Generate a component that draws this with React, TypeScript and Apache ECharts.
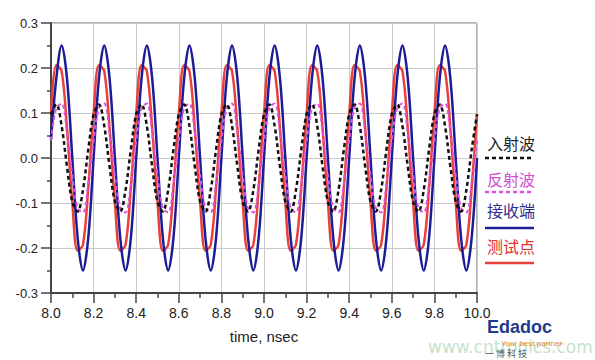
import React, { useEffect, useRef } from "react";
import * as echarts from "echarts";

// sample times (ns): 8.0 .. 10.0 every 0.025 ns
const times: number[] = Array.from({ length: 81 }, (_, i) => +(8 + i * 0.025).toFixed(3));

const xTicks = ["8.0", "8.2", "8.4", "8.6", "8.8", "9.0", "9.2", "9.4", "9.6", "9.8", "10.0"];
const yTicks = ["-0.3", "-0.2", "-0.1", "0.0", "0.1", "0.2", "0.3"];

// 入射波 (incident, black dashed)
const incident: number[] = [
  0.097, 0.119, 0.071, -0.019, -0.097, -0.119, -0.071, 0.019,
  0.097, 0.119, 0.071, -0.019, -0.097, -0.119, -0.071, 0.019,
  0.097, 0.119, 0.071, -0.019, -0.097, -0.119, -0.071, 0.019,
  0.097, 0.119, 0.071, -0.019, -0.097, -0.119, -0.071, 0.019,
  0.097, 0.119, 0.071, -0.019, -0.097, -0.119, -0.071, 0.019,
  0.097, 0.119, 0.071, -0.019, -0.097, -0.119, -0.071, 0.019,
  0.097, 0.119, 0.071, -0.019, -0.097, -0.119, -0.071, 0.019,
  0.097, 0.119, 0.071, -0.019, -0.097, -0.119, -0.071, 0.019,
  0.097, 0.119, 0.071, -0.019, -0.097, -0.119, -0.071, 0.019,
  0.097, 0.119, 0.071, -0.019, -0.097, -0.119, -0.071, 0.019,
  0.097,
];

// 反射波 (reflected, pink dashed)
const reflected: number[] = [
  0.039, 0.111, 0.121, 0.057, -0.039, -0.111, -0.121, -0.057,
  0.039, 0.111, 0.121, 0.057, -0.039, -0.111, -0.121, -0.057,
  0.039, 0.111, 0.121, 0.057, -0.039, -0.111, -0.121, -0.057,
  0.039, 0.111, 0.121, 0.057, -0.039, -0.111, -0.121, -0.057,
  0.039, 0.111, 0.121, 0.057, -0.039, -0.111, -0.121, -0.057,
  0.039, 0.111, 0.121, 0.057, -0.039, -0.111, -0.121, -0.057,
  0.039, 0.111, 0.121, 0.057, -0.039, -0.111, -0.121, -0.057,
  0.039, 0.111, 0.121, 0.057, -0.039, -0.111, -0.121, -0.057,
  0.039, 0.111, 0.121, 0.057, -0.039, -0.111, -0.121, -0.057,
  0.039, 0.111, 0.121, 0.057, -0.039, -0.111, -0.121, -0.057,
  0.039,
];

// 接收端 (receiver, navy solid)
const receiver: number[] = [
  0.04, 0.177, 0.25, 0.177, 0, -0.177, -0.25, -0.177,
  0, 0.177, 0.25, 0.177, 0, -0.177, -0.25, -0.177,
  0, 0.177, 0.25, 0.177, 0, -0.177, -0.25, -0.177,
  0, 0.177, 0.25, 0.177, 0, -0.177, -0.25, -0.177,
  0, 0.177, 0.25, 0.177, 0, -0.177, -0.25, -0.177,
  0, 0.177, 0.25, 0.177, 0, -0.177, -0.25, -0.177,
  0, 0.177, 0.25, 0.177, 0, -0.177, -0.25, -0.177,
  0, 0.177, 0.25, 0.177, 0, -0.177, -0.25, -0.177,
  0, 0.177, 0.25, 0.177, 0, -0.177, -0.25, -0.177,
  0, 0.177, 0.25, 0.177, 0, -0.177, -0.25, -0.177,
  0,
];

// 测试点 (test point, red solid)
const testPoint: number[] = [
  0.098, 0.206, 0.193, 0.066, -0.098, -0.206, -0.193, -0.066,
  0.098, 0.206, 0.193, 0.066, -0.098, -0.206, -0.193, -0.066,
  0.098, 0.206, 0.193, 0.066, -0.098, -0.206, -0.193, -0.066,
  0.098, 0.206, 0.193, 0.066, -0.098, -0.206, -0.193, -0.066,
  0.098, 0.206, 0.193, 0.066, -0.098, -0.206, -0.193, -0.066,
  0.098, 0.206, 0.193, 0.066, -0.098, -0.206, -0.193, -0.066,
  0.098, 0.206, 0.193, 0.066, -0.098, -0.206, -0.193, -0.066,
  0.098, 0.206, 0.193, 0.066, -0.098, -0.206, -0.193, -0.066,
  0.098, 0.206, 0.193, 0.066, -0.098, -0.206, -0.193, -0.066,
  0.098, 0.206, 0.193, 0.066, -0.098, -0.206, -0.193, -0.066,
  0.098,
];

const legendNames = ["入射波", "反射波", "接收端", "测试点"];
const legendTextColors = ["#222222", "#d24fd2", "#2c2c8c", "#e0302c"];
const colors = ["#111111", "#e050e0", "#1c1c96", "#e8403a"];

const pairs = (vals: number[]) => vals.map((v, i) => [times[i], v]);

export default function App() {
  const ref = useRef<HTMLDivElement>(null);
  useEffect(() => {
    if (!ref.current) return;
    const chart = echarts.init(ref.current, undefined, { renderer: "svg" });
    const cjk = '"Noto Sans CJK SC", sans-serif';
    const legendY = [145, 181, 212, 248];
    const lineY = [158, 192, 228, 263];
    const graphics: any[] = [];
    legendNames.forEach((n, i) => {
      graphics.push({
        type: "text",
        left: 487,
        top: legendY[i] - 10,
        style: { text: n, fill: legendTextColors[i], font: `16px ${cjk}` },
      });
      graphics.push({
        type: "line",
        shape: { x1: 485, y1: lineY[i], x2: 534, y2: lineY[i] },
        style: {
          stroke: colors[i],
          lineWidth: 2.5,
          lineDash: i < 2 ? [4, 3] : undefined,
        },
      });
    });
    // logo / watermark
    graphics.push({
      type: "text",
      left: 428,
      top: 338,
      style: { text: "www.cntronics.com", fill: "rgba(150,200,150,0.55)", font: '17px "DejaVu Sans", sans-serif' },
    });
    graphics.push({
      type: "text",
      left: 487,
      top: 318,
      style: { text: "Edadoc", fill: "#1e3c8c", font: 'bold 18px "Liberation Sans", Arial, sans-serif' },
    });
    graphics.push({
      type: "text",
      left: 501,
      top: 339,
      style: { text: "Your best partner", fill: "#e08a30", font: '8px "Liberation Sans", Arial, sans-serif' },
    });
    graphics.push({
      type: "text",
      left: 485,
      top: 349,
      style: { text: "一 博 科 技", fill: "#555555", font: `9px ${cjk}` },
    });

    const seriesOrder = [3, 2, 1, 0];
    const allVals = [incident, reflected, receiver, testPoint];
    chart.setOption({
      animation: false,
      backgroundColor: "#ffffff",
      grid: {
        left: 51,
        right: 118,
        top: 23,
        bottom: 67,
        show: true,
        borderColor: "#666666",
        borderWidth: 1,
      },
      xAxis: {
        type: "value",
        min: 8,
        max: 10,
        interval: 0.2,
        name: "time, nsec",
        nameLocation: "middle",
        nameGap: 36,
        nameTextStyle: { color: "#222", fontSize: 15, fontFamily: '"Liberation Sans", Arial, sans-serif' },
        axisLine: { onZero: false, lineStyle: { color: "#444", width: 2 } },
        axisTick: { show: true, length: 10, lineStyle: { color: "#444", width: 1.5 } },
        minorTick: { show: true, splitNumber: 2, length: 5, lineStyle: { color: "#444", width: 1.5 } },
        axisLabel: {
          margin: 13,
          color: "#222",
          fontSize: 14,
          fontFamily: '"Liberation Sans", Arial, sans-serif',
          formatter: (v: number) => xTicks[Math.round((v - 8) / 0.2)] ?? v.toFixed(1),
        },
        splitLine: { show: true, lineStyle: { color: "#c8c8c8", width: 1 } },
      },
      yAxis: {
        type: "value",
        min: -0.3,
        max: 0.3,
        interval: 0.1,
        axisLine: { show: true, onZero: false, lineStyle: { color: "#444", width: 2 } },
        axisTick: { show: true, length: 10, lineStyle: { color: "#444", width: 1.5 } },
        minorTick: { show: true, splitNumber: 2, length: 4, lineStyle: { color: "#444", width: 1.5 } },
        axisLabel: {
          margin: 13,
          color: "#222",
          fontSize: 13,
          fontFamily: '"Liberation Sans", Arial, sans-serif',
          formatter: (v: number) => yTicks[Math.round((v + 0.3) / 0.1)] ?? v.toFixed(1),
        },
        splitLine: { show: true, lineStyle: { color: "#c8c8c8", width: 1 } },
      },
      series: seriesOrder.map((i) => ({
        type: "line",
        name: legendNames[i],
        data: pairs(allVals[i]),
        showSymbol: false,
        symbol: "none",
        smooth: 0.35,
        clip: true,
        lineStyle: {
          color: colors[i],
          width: i === 1 ? 2 : 2.5,
          type: i < 2 ? [4, 3] : "solid",
        },
        z: 2 + (3 - i),
      })),
      graphic: graphics,
    });
    return () => chart.dispose();
  }, []);
  return (
    <div
      ref={ref}
      style={{ position: "fixed", left: 0, top: 0, width: 595, height: 360, background: "#fff" }}
    />
  );
}
